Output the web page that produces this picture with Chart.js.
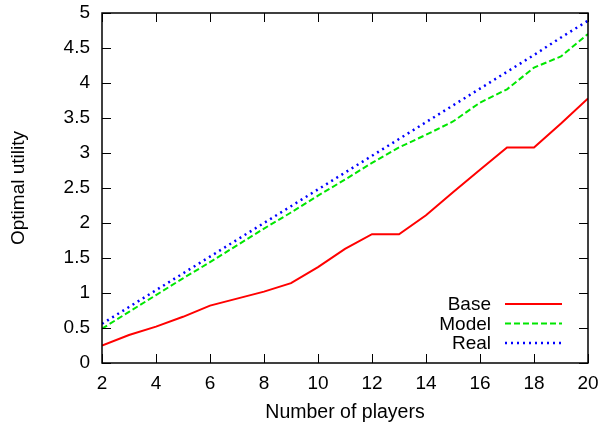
<!DOCTYPE html>
<html>
<head>
<meta charset="utf-8">
<script src="https://cdn.jsdelivr.net/npm/chart.js@4/dist/chart.umd.min.js"></script>
<style>
  html, body { margin: 0; padding: 0; background: #fff; }
  #chart { display: block; }
</style>
</head>
<body>
<canvas id="chart" width="600" height="426"></canvas>
<script>
// values
const players = [2, 3, 4, 5, 6, 7, 8, 9, 10, 11, 12, 13, 14, 15, 16, 17, 18, 19, 20];
const baseUtility = [0.25, 0.40, 0.52, 0.66, 0.82, 0.92, 1.02, 1.14, 1.37, 1.63, 1.84, 1.84, 2.11, 2.44, 2.76, 3.08, 3.08, 3.42, 3.78];
const modelUtility = [0.49, 0.73, 0.97, 1.21, 1.44, 1.68, 1.92, 2.15, 2.39, 2.62, 2.86, 3.08, 3.26, 3.45, 3.72, 3.91, 4.22, 4.38, 4.70];
const realUtility = [0.56, 0.80, 1.04, 1.28, 1.52, 1.76, 2.00, 2.24, 2.48, 2.72, 2.96, 3.20, 3.44, 3.68, 3.92, 4.16, 4.40, 4.65, 4.89];
const xTicks = [2, 4, 6, 8, 10, 12, 14, 16, 18, 20];
const yTicks = [0, 0.5, 1, 1.5, 2, 2.5, 3, 3.5, 4, 4.5, 5];

const FONT = "'Liberation Sans', Arial, sans-serif";
const toPoints = (ys) => players.map((x, i) => ({ x: x, y: ys[i] }));

const series = [
    { label: 'Base', data: baseUtility, color: '#ff0000', dash: [], width: 2 },
    { label: 'Model', data: modelUtility, color: '#00e600', dash: [6, 3], width: 2 },
    { label: 'Real', data: realUtility, color: '#0000ff', dash: [2, 4], width: 2.5 }
];

// gnuplot-like frame: box, inward ticks mirrored on all sides, key inside bottom-right
const framePlugin = {
    id: 'frame',
    afterDatasetsDraw(chart) {
        const ctx = chart.ctx;
        const a = chart.chartArea;
        const xs = chart.scales.x, ys = chart.scales.y;
        const len = 9;
        ctx.save();
        ctx.strokeStyle = '#000';
        ctx.lineWidth = 1.5;
        ctx.strokeRect(a.left, a.top, a.right - a.left, a.bottom - a.top);
        ctx.beginPath();
        xTicks.forEach(v => {
            const px = Math.round(xs.getPixelForValue(v)) + 0.5;
            ctx.moveTo(px, a.bottom); ctx.lineTo(px, a.bottom - len);
            ctx.moveTo(px, a.top); ctx.lineTo(px, a.top + len);
        });
        yTicks.forEach(v => {
            const py = Math.round(ys.getPixelForValue(v)) + 0.5;
            ctx.moveTo(a.left, py); ctx.lineTo(a.left + len, py);
            ctx.moveTo(a.right, py); ctx.lineTo(a.right - len, py);
        });
        ctx.lineWidth = 1;
        ctx.stroke();

        // key
        ctx.font = '19px ' + FONT;
        ctx.textAlign = 'right';
        ctx.textBaseline = 'middle';
        series.forEach((s, i) => {
            const y = 304 + i * 19.5;
            ctx.fillStyle = '#000';
            ctx.fillText(s.label, 491, y + 1);
            ctx.beginPath();
            ctx.strokeStyle = s.color;
            ctx.lineWidth = s.width;
            ctx.setLineDash(s.dash);
            ctx.moveTo(505, y);
            ctx.lineTo(562, y);
            ctx.stroke();
        });
        ctx.restore();
    }
};

new Chart(document.getElementById('chart'), {
    type: 'line',
    data: {
        datasets: series.map(s => ({
            label: s.label,
            data: toPoints(s.data),
            borderColor: s.color,
            borderWidth: s.width,
            borderDash: s.dash,
            pointRadius: 0,
            tension: 0,
            fill: false
        }))
    },
    options: {
        responsive: false,
        animation: false,
        devicePixelRatio: 1,
        layout: { padding: { left: 0, right: 12, top: 13, bottom: 0 } },
        plugins: { legend: { display: false }, tooltip: { enabled: false } },
        scales: {
            x: {
                type: 'linear',
                min: 2,
                max: 20,
                afterBuildTicks: scale => { scale.ticks = xTicks.map(v => ({ value: v })); },
                afterFit: scale => { scale.height = 63; scale.paddingLeft = 0; scale.paddingRight = 0; },
                grid: { display: false, drawTicks: false },
                border: { display: false },
                ticks: { padding: 9, color: '#000', font: { family: FONT, size: 19 }, callback: v => String(v), maxRotation: 0 },
                title: { display: true, text: 'Number of players', color: '#000', font: { family: FONT, size: 19.5 }, padding: { top: 0, bottom: 2 } }
            },
            y: {
                type: 'linear',
                min: 0,
                max: 5,
                afterBuildTicks: scale => { scale.ticks = yTicks.map(v => ({ value: v })); },
                afterFit: scale => { scale.width = 102; scale.paddingTop = 0; scale.paddingBottom = 0; },
                grid: { display: false, drawTicks: false },
                border: { display: false },
                ticks: { padding: 12, color: '#000', font: { family: FONT, size: 19 }, callback: v => String(v) },
                title: { display: true, text: 'Optimal utility', color: '#000', font: { family: FONT, size: 19 }, padding: { top: 7, bottom: 0 } }
            }
        }
    },
    plugins: [framePlugin]
});
</script>
</body>
</html>
